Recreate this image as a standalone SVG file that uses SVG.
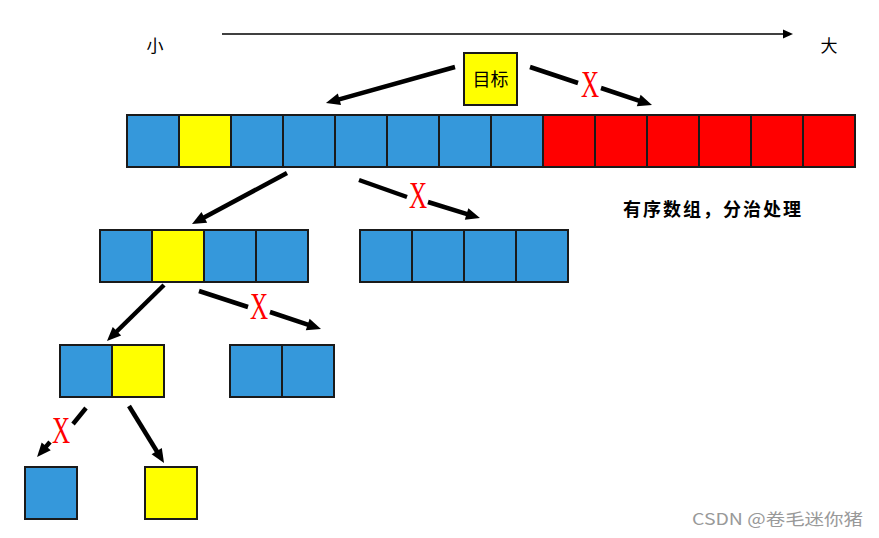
<svg xmlns="http://www.w3.org/2000/svg" width="879" height="538" viewBox="0 0 879 538">
<style>
.b{fill:#3598db;stroke:#1a1a1a;stroke-width:2}
.y{fill:#ffff00;stroke:#1a1a1a;stroke-width:2}
.r{fill:#ff0000;stroke:#1a1a1a;stroke-width:2}
.a{stroke:#000;stroke-width:4.5;fill:none}
.x{font-family:"Liberation Serif",serif;font-size:38px;fill:#ff0000;text-anchor:middle}
.t{font-family:"Noto Sans CJK SC",sans-serif;fill:#000}
</style>
<defs>
<marker id="ah" markerUnits="userSpaceOnUse" markerWidth="16" markerHeight="14" refX="4" refY="6" orient="auto" overflow="visible">
<path d="M0,0 L14,6 L0,12 z" fill="#000"/>
</marker>
<marker id="sh" markerUnits="userSpaceOnUse" markerWidth="12" markerHeight="10" refX="1" refY="4.5" orient="auto" overflow="visible">
<path d="M0,0 L10,4.5 L0,9 z" fill="#000"/>
</marker>
</defs>
<rect width="879" height="538" fill="#fff"/>

<g id="axis">
<line x1="222" y1="34" x2="784" y2="34" stroke="#000" stroke-width="1.5" marker-end="url(#sh)"/>
<text class="t" x="155" y="52" font-size="17" text-anchor="middle">小</text>
<text class="t" x="829" y="52" font-size="17" text-anchor="middle">大</text>
</g>

<g id="target">
<rect x="464" y="53" width="53" height="52" class="y"/>
<text class="t" x="490.5" y="86" font-size="18" text-anchor="middle">目标</text>
</g>

<g id="array14">
<rect x="127" y="115" width="52" height="52" class="b"/>
<rect x="179" y="115" width="52" height="52" class="y"/>
<rect x="231" y="115" width="52" height="52" class="b"/>
<rect x="283" y="115" width="52" height="52" class="b"/>
<rect x="335" y="115" width="52" height="52" class="b"/>
<rect x="387" y="115" width="52" height="52" class="b"/>
<rect x="439" y="115" width="52" height="52" class="b"/>
<rect x="491" y="115" width="52" height="52" class="b"/>
<rect x="543" y="115" width="52" height="52" class="r"/>
<rect x="595" y="115" width="52" height="52" class="r"/>
<rect x="647" y="115" width="52" height="52" class="r"/>
<rect x="699" y="115" width="52" height="52" class="r"/>
<rect x="751" y="115" width="52" height="52" class="r"/>
<rect x="803" y="115" width="52" height="52" class="r"/>
</g>

<g id="note">
<text class="t" x="623" y="216" font-size="18" font-weight="bold" textLength="178" lengthAdjust="spacing">有序数组，分治处理</text>
</g>

<g id="array4left">
<rect x="100" y="230" width="52" height="52" class="b"/>
<rect x="152" y="230" width="52" height="52" class="y"/>
<rect x="204" y="230" width="52" height="52" class="b"/>
<rect x="256" y="230" width="52" height="52" class="b"/>
</g>

<g id="array4right">
<rect x="360" y="230" width="52" height="52" class="b"/>
<rect x="412" y="230" width="52" height="52" class="b"/>
<rect x="464" y="230" width="52" height="52" class="b"/>
<rect x="516" y="230" width="52" height="52" class="b"/>
</g>

<g id="array2left">
<rect x="60" y="345" width="52" height="52" class="b"/>
<rect x="112" y="345" width="52" height="52" class="y"/>
</g>

<g id="array2right">
<rect x="230" y="345" width="52" height="52" class="b"/>
<rect x="282" y="345" width="52" height="52" class="b"/>
</g>

<g id="single-left">
<rect x="25" y="467" width="52" height="52" class="b"/>
</g>

<g id="single-right">
<rect x="145" y="467" width="52" height="52" class="y"/>
</g>

<g id="connectors">
<line class="a" x1="455" y1="67" x2="335.6" y2="100.3" marker-end="url(#ah)"/>
<line class="a" x1="530" y1="67" x2="578" y2="83"/>
<line class="a" x1="601" y1="88" x2="642.5" y2="101.8" marker-end="url(#ah)"/>
<text class="x" transform="translate(590,97) scale(0.66,1)">X</text>

<line class="a" x1="287" y1="173" x2="200.8" y2="219.3" marker-end="url(#ah)"/>
<line class="a" x1="359" y1="180" x2="407" y2="197"/>
<line class="a" x1="428" y1="202" x2="470.4" y2="215.1" marker-end="url(#ah)"/>
<text class="x" transform="translate(418,208) scale(0.66,1)">X</text>

<line class="a" x1="164" y1="285" x2="114.1" y2="334" marker-end="url(#ah)"/>
<line class="a" x1="199" y1="291" x2="248" y2="307"/>
<line class="a" x1="270" y1="312" x2="311.5" y2="325.8" marker-end="url(#ah)"/>
<text class="x" transform="translate(259,319) scale(0.66,1)">X</text>

<line class="a" x1="86" y1="408" x2="73" y2="424"/>
<line class="a" x1="50" y1="442" x2="43.6" y2="449.4" marker-end="url(#ah)"/>
<text class="x" transform="translate(61,443) scale(0.66,1)">X</text>

<line class="a" x1="129" y1="406" x2="158.8" y2="454.5" marker-end="url(#ah)"/>
</g>

<g id="watermark">
<text x="692" y="525" font-family="'Noto Sans CJK SC',sans-serif" font-size="16" fill="#999" textLength="171" lengthAdjust="spacingAndGlyphs">CSDN @卷毛迷你猪</text>
</g>
</svg>
